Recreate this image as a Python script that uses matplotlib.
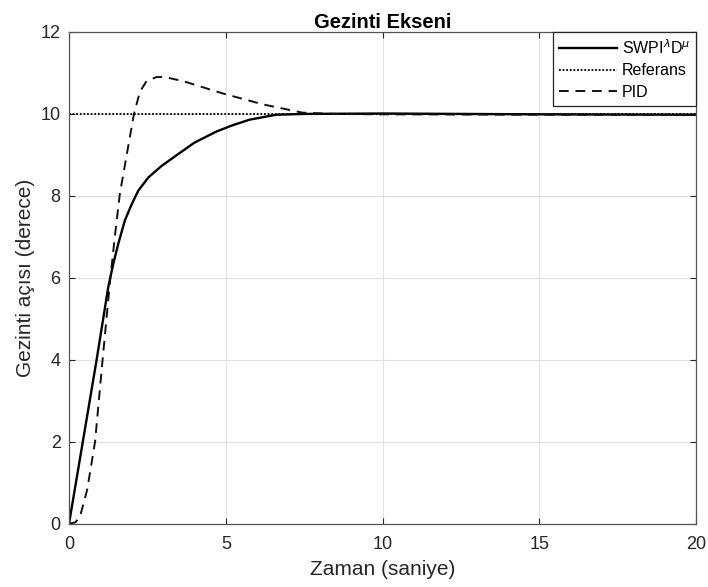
import numpy as np
from matplotlib import pyplot as plt

plt.rcParams['font.family'] = ['Liberation Sans', 'DejaVu Sans']

# SWPI^lambda D^mu cevabi (grafikten okunan noktalar)
t_swpi = [0, 0.44, 0.88, 1.25, 1.41, 1.57, 1.78, 2.0, 2.21, 2.53, 2.95, 3.48,
          4.0, 4.7, 5.2, 5.76, 6.6, 7.5, 10, 15, 20]
y_swpi = [0, 2.0, 4.0, 5.77, 6.34, 6.83, 7.4, 7.8, 8.13, 8.45, 8.73, 9.02,
          9.3, 9.57, 9.72, 9.86, 9.98, 10.0, 10.01, 9.99, 9.98]

# PID cevabi
t_pid = [0, 0.2, 0.35, 0.58, 0.83, 1.07, 1.31, 1.46, 1.62, 1.89, 2.07, 2.26,
         2.47, 2.79, 3.05, 3.64, 4.9, 6.2, 7.45, 8.5, 10, 15, 20]
y_pid = [0, 0.03, 0.17, 0.83, 2.0, 4.0, 5.94, 7.0, 8.05, 9.22, 10.0, 10.54,
         10.8, 10.9, 10.9, 10.8, 10.5, 10.23, 10.03, 10.0, 9.99, 9.98, 9.98]

t_ref = [0, 20]
y_ref = [10, 10]

fig = plt.figure(figsize=(7.08, 5.87), dpi=100)
ax = fig.add_axes([0.0975, 0.108, 0.886, 0.8375])

ax.plot(t_swpi, y_swpi, color='black', lw=1.7, label=r'SWPI$^{\lambda}$D$^{\mu}$')
ax.plot(t_ref, y_ref, color='black', lw=1.3, ls=(0, (1, 1)), label='Referans')
ax.plot(t_pid, y_pid, color='#111111', lw=1.4, ls=(0, (5, 3.5)), label='PID')

ax.set_xlim(0, 20)
ax.set_ylim(0, 12)
ax.set_xticks([0, 5, 10, 15, 20])
ax.set_yticks([0, 2, 4, 6, 8, 10, 12])
ax.grid(color='#e0e0e0', lw=0.8)
ax.tick_params(axis='both', direction='in', top=True, right=True, labelsize=13,
               colors='#262626', length=4)
ax.tick_params(axis='x', pad=9)
ax.tick_params(axis='y', pad=6)
for s in ax.spines.values():
    s.set_color('#555555')
    s.set_linewidth(0.9)

ax.set_xlabel('Zaman (saniye)', fontsize=15, color='#262626', labelpad=5)
ax.set_ylabel('Gezinti açısı (derece)', fontsize=15, color='#262626', labelpad=4)
ax.set_title('Gezinti Ekseni', fontsize=14.5, fontweight='bold', pad=3)

leg = ax.legend(loc='upper right', fontsize=11.5, fancybox=False, framealpha=1,
                edgecolor='#262626', handlelength=3.6, handletextpad=0.3,
                borderaxespad=0.0, labelspacing=0.4, borderpad=0.4)
leg.get_frame().set_linewidth(0.9)

plt.savefig('out.png', dpi=100)
